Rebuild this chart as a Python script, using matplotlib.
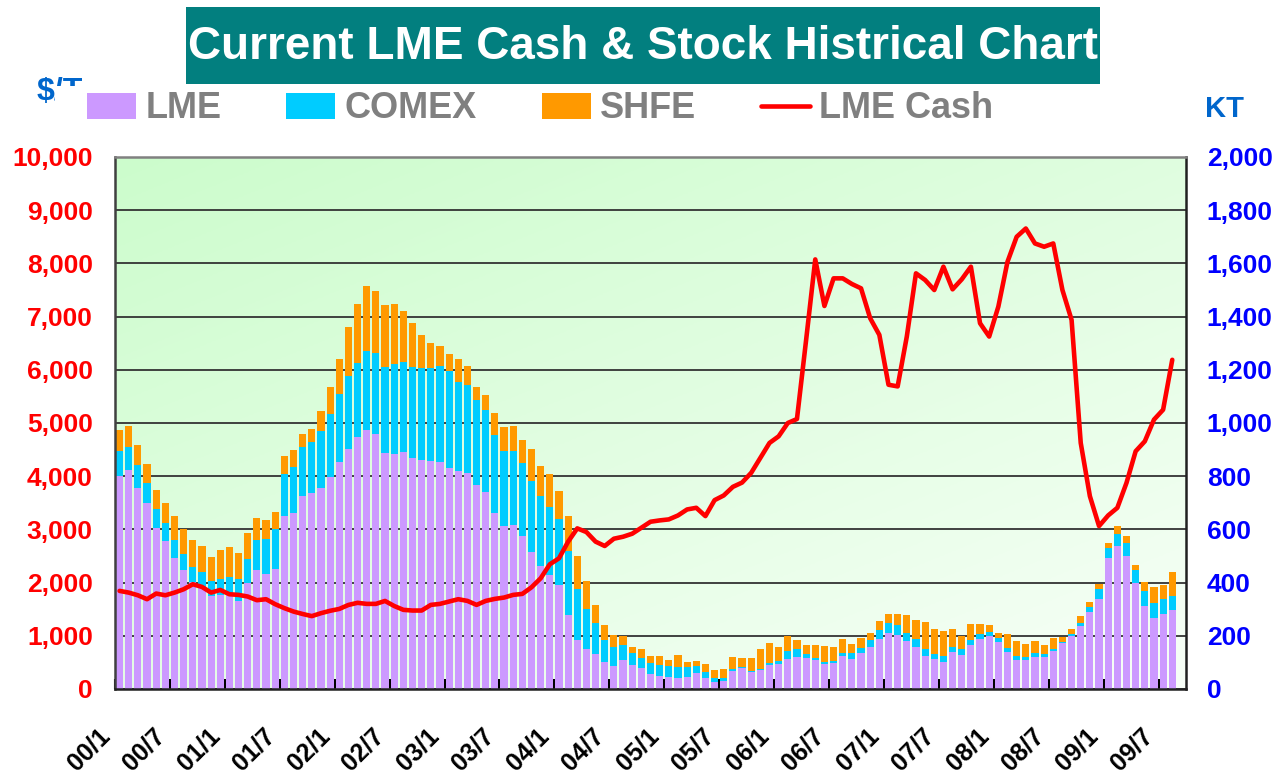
import numpy as np
import pandas as pd
import matplotlib
matplotlib.use('Agg')
from matplotlib import pyplot as plt
from matplotlib.patches import Rectangle
from matplotlib.ticker import FuncFormatter
from matplotlib.transforms import ScaledTranslation

# monthly categories 2000/1 .. 2009/9 (last month has no data yet)
months = pd.period_range('2000-01', '2009-09', freq='M')
tick_labels = ['00/1', '00/7', '01/1', '01/7', '02/1', '02/7', '03/1', '03/7',
               '04/1', '04/7', '05/1', '05/7', '06/1', '06/7', '07/1', '07/7',
               '08/1', '08/7', '09/1', '09/7']

# stocks in KT
lme = [800, 822, 754, 699, 604, 555, 491, 446, 402, 381, 350, 354,
       352, 331, 399, 446, 432, 450, 652, 660, 727, 735, 754, 798,
       852, 901, 946, 972, 957, 886, 882, 890, 867, 860, 856, 852,
       830, 819, 811, 766, 740, 661, 612, 616, 575, 515, 462, 429,
       391, 279, 185, 150, 131, 101, 86, 109, 90, 79, 56, 49,
       45, 41, 45, 60, 41, 26, 30, 67, 79, 64, 71, 90,
       94, 112, 120, 116, 109, 94, 97, 124, 112, 135, 157, 187,
       212, 202, 181, 159, 124, 112, 101, 139, 127, 165, 187, 199,
       176, 139, 109, 109, 120, 120, 142, 174, 199, 236, 289, 337,
       491, 536, 499, 397, 311, 266, 281, 296]
comex = [94, 87, 87, 77, 72, 69, 68, 60, 57, 58, 55, 58,
         68, 81, 91, 113, 133, 152, 158, 174, 182, 195, 217, 237,
         257, 276, 281, 297, 308, 323, 338, 341, 345, 345, 349, 364,
         364, 337, 330, 319, 307, 293, 282, 278, 274, 266, 263, 255,
         248, 240, 191, 152, 116, 83, 71, 56, 45, 36, 41, 41,
         41, 41, 37, 26, 23, 15, 11, 8, 3, 3, 4, 7,
         11, 30, 30, 15, 7, 7, 8, 11, 23, 19, 27, 34,
         35, 38, 31, 28, 28, 19, 23, 18, 23, 19, 19, 15,
         15, 15, 15, 11, 16, 11, 8, 3, 7, 11, 18, 38,
         38, 45, 48, 49, 56, 56, 56, 53]
shfe = [81, 81, 78, 71, 71, 77, 93, 94, 100, 97, 90, 109,
        112, 98, 95, 82, 72, 65, 67, 66, 51, 49, 75, 102,
        130, 185, 222, 247, 232, 236, 229, 191, 165, 124, 97, 75,
        67, 86, 75, 52, 57, 82, 90, 93, 86, 120, 112, 123,
        105, 131, 124, 103, 69, 56, 45, 34, 22, 35, 27, 34,
        23, 45, 19, 19, 30, 30, 34, 45, 34, 49, 75, 75,
        52, 57, 34, 34, 49, 60, 52, 52, 34, 37, 26, 34,
        34, 41, 65, 72, 99, 94, 93, 68, 49, 60, 38, 26,
        19, 52, 56, 49, 44, 34, 41, 18, 19, 27, 19, 19,
        18, 30, 27, 19, 34, 60, 53, 90]
# LME cash price, $/T
cash = [1844, 1812, 1762, 1688, 1794, 1762, 1812, 1875, 1969, 1919, 1812, 1862,
        1781, 1769, 1738, 1669, 1688, 1594, 1520, 1456, 1410, 1370, 1425, 1470,
        1505, 1580, 1620, 1600, 1600, 1655, 1560, 1488, 1475, 1475, 1581, 1600,
        1644, 1688, 1656, 1581, 1656, 1694, 1719, 1769, 1788, 1912, 2081, 2344,
        2456, 2769, 3019, 2950, 2770, 2688, 2825, 2862, 2919, 3031, 3144, 3169,
        3188, 3262, 3375, 3406, 3250, 3550, 3638, 3800, 3880, 4063, 4344, 4625,
        4750, 5000, 5075, 6560, 8075, 7200, 7719, 7719, 7613, 7531, 6969, 6656,
        5719, 5688, 6625, 7813, 7688, 7500, 7938, 7513, 7700, 7938, 6875, 6625,
        7188, 8031, 8500, 8656, 8375, 8313, 8375, 7500, 6938, 4625, 3625, 3063,
        3263, 3406, 3875, 4469, 4656, 5063, 5250, 6188]

plt.rcParams['font.family'] = ['Liberation Sans', 'DejaVu Sans']
plt.rcParams['font.weight'] = 'bold'

W, H = 1279, 776
fig = plt.figure(figsize=(W / 100, H / 100), dpi=100)
L, R, T, B = 115, 1186, 157, 689
ax = fig.add_axes([L / W, 1 - B / H, (R - L) / W, (B - T) / H])

# light green diagonal gradient behind the plot
gx, gy = np.meshgrid(np.linspace(0, 1, 200), np.linspace(0, 1, 200))
s = np.clip(0.45 * gx + 0.55 * (1 - gy), 0, 1)[..., None]
c0 = np.array([0.80, 0.99, 0.80])
c1 = np.array([0.97, 1.0, 0.97])
ax.imshow(c0 + s * (c1 - c0), extent=[0, 1, 0, 1], origin='lower',
          transform=ax.transAxes, aspect='auto', zorder=0)

x = np.arange(len(lme))
lme_a, comex_a, shfe_a = np.array(lme), np.array(comex), np.array(shfe)
ax.bar(x, lme_a, 0.78, color='#CC99FF', label='LME', zorder=2)
ax.bar(x, comex_a, 0.78, bottom=lme_a, color='#00CCFF', label='COMEX', zorder=2)
ax.bar(x, shfe_a, 0.78, bottom=lme_a + comex_a, color='#FF9900', label='SHFE', zorder=2)

ax.set_xlim(-0.5, len(months) - 0.5)
ax.set_ylim(0, 2000)
ax.set_yticks(range(0, 2001, 200))
ax.yaxis.set_major_formatter(FuncFormatter(lambda v, p: f'{v:,.0f}'))
ax.grid(axis='y', color='#333333', lw=1.3)
ax.set_axisbelow(True)

ax.set_xticks(np.arange(0, len(months), 6) - 0.5)
ax.set_xticklabels(tick_labels)
ax.tick_params(axis='x', direction='in', length=7, width=1.5, pad=31, labelsize=18)
shift = ScaledTranslation(-0.09, 0, fig.dpi_scale_trans)
for lbl in ax.get_xticklabels():
    lbl.set_rotation(45)
    lbl.set_ha('right')
    lbl.set_va('center')
    lbl.set_rotation_mode('anchor')
    lbl.set_transform(lbl.get_transform() + shift)

for side, col in [('left', '#404040'), ('bottom', '#202020'),
                  ('right', '#202020'), ('top', '#808080')]:
    ax.spines[side].set_color(col)
    ax.spines[side].set_linewidth(1.8)

# price line on its own scale, labels on the left
ax2 = ax.twinx()
ax2.plot(x, cash, color='#FF0000', lw=3.3, solid_joinstyle='round',
         solid_capstyle='round', label='LME Cash')
ax2.set_ylim(0, 10000)
ax2.set_yticks(range(0, 10001, 1000))
ax2.yaxis.tick_left()
ax2.yaxis.set_major_formatter(FuncFormatter(lambda v, p: f'{v:,.0f}'))
ax2.tick_params(axis='y', length=0, pad=16, labelsize=19, labelcolor='#FF0000')
for sp in ax2.spines.values():
    sp.set_visible(False)

# twinx moved the stock ticks to the left, send them back right
ax.yaxis.tick_right()
ax.tick_params(axis='y', length=0, pad=15, labelsize=19, labelcolor='#0000FF',
               left=False, labelleft=False, right=True, labelright=True)

# title box
fig.add_artist(Rectangle((186 / W, 1 - 84 / H), 914 / W, 77 / H, transform=fig.transFigure,
                         facecolor='#027F7F', edgecolor='none', zorder=1))
fig.text(643 / W, 1 - 47 / H, 'Current LME Cash & Stock Histrical Chart', ha='center',
         va='center', fontsize=33, fontweight='bold', color='white', zorder=3)

# axis units ($/T is partly hidden behind the legend box, as in the original)
fig.text(37 / W, 1 - 92 / H, '$/T', color='#0066CC', fontsize=23, fontweight='bold',
         va='center', zorder=3)
fig.add_artist(Rectangle((55 / W, 1 - 132 / H), 31 / W, 46 / H, transform=fig.transFigure,
                         facecolor='white', edgecolor='none', zorder=4))
fig.text(1205 / W, 1 - 109 / H, 'KT', color='#0066CC', fontsize=21, fontweight='bold',
         va='center')

h1, l1 = ax.get_legend_handles_labels()
h2, l2 = ax2.get_legend_handles_labels()
fig.legend(h1 + h2, l1 + l2, loc='center left', bbox_to_anchor=(87 / W, 1 - 109 / H),
           ncol=4, frameon=False, prop={'size': 26, 'weight': 'bold'}, labelcolor='#808080',
           handlelength=1.36, handleheight=0.75, handletextpad=0.25, columnspacing=1.8,
           borderpad=0, borderaxespad=0)

fig.savefig('out.png', dpi=100)
